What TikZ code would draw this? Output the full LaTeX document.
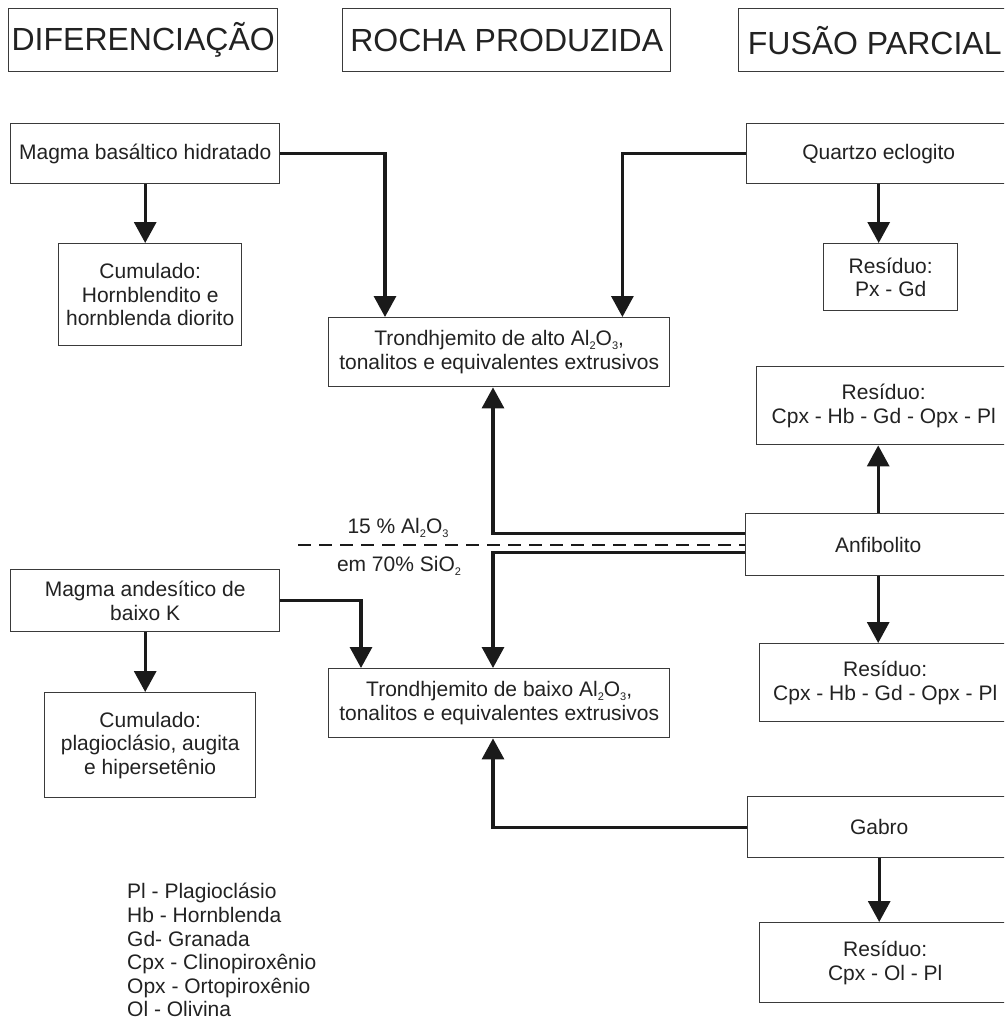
\documentclass[tikz,border=0pt]{standalone}
\usepackage{fontspec}
\setmainfont{Liberation Sans}
\usetikzlibrary{arrows.meta}
\definecolor{boxc}{HTML}{3A3A3A}
\definecolor{txt}{HTML}{222222}
\definecolor{lnc}{HTML}{1A1A1A}
\newcommand{\chemsub}[1]{\raisebox{-0.35ex}{\fontsize{11}{11}\selectfont #1}}
\begin{document}
\begin{tikzpicture}[x=1pt,y=-1pt,
  box/.style={draw=boxc, line width=1.4pt, rectangle, inner sep=0pt, align=center,
    text=txt, font=\fontsize{21}{23.5}\selectfont, anchor=north west},
  hdr/.style={box, font=\fontsize{32}{36}\selectfont},
  conn/.style={line width=3.2pt, draw=lnc, -{Triangle[width=22pt,length=21pt]}},
  lbl/.style={text=txt, font=\fontsize{21}{23.5}\selectfont, inner sep=0pt},
  leg/.style={lbl, anchor=base west},
  dline/.style={line width=2pt, draw=lnc, dash pattern=on 13pt off 8pt}
]
\useasboundingbox (0,0) rectangle (1004,1020);
\clip (0,0) rectangle (1004,1020);
\fill[white] (0,0) rectangle (1004,1020);

% headers
\node[hdr, minimum width=269pt, minimum height=63pt] (hdif) at (8,8) {DIFERENCIAÇÃO};
\node[hdr, minimum width=328pt, minimum height=63pt] (hroc) at (342,8) {ROCHA PRODUZIDA};
\node[hdr, minimum width=272pt, minimum height=63pt] (hfus) at (738,8) {FUSÃO PARCIAL};

% left column
\node[box, minimum width=269pt, minimum height=60pt] (bas) at (10,123) {Magma basáltico hidratado};
\node[box, minimum width=183pt, minimum height=102pt] (cum1) at (58,243) {Cumulado:\\Hornblendito e\\hornblenda diorito};
\node[box, minimum width=269pt, minimum height=62pt] (and) at (10,569) {Magma andesítico de\\baixo K};
\node[box, minimum width=211pt, minimum height=105pt] (cum2) at (44,692) {Cumulado:\\plagioclásio, augita\\e hipersetênio};

% middle column
\node[box, minimum width=341pt, minimum height=69pt] (alto) at (328,317) {Trondhjemito de alto Al\chemsub{2}O\chemsub{3},\\tonalitos e equivalentes extrusivos};
\node[box, minimum width=341pt, minimum height=69pt] (baixo) at (328,668) {Trondhjemito de baixo Al\chemsub{2}O\chemsub{3},\\tonalitos e equivalentes extrusivos};

% right column
\node[box, minimum width=264pt, minimum height=60pt] (quar) at (746,123) {Quartzo eclogito};
\node[box, minimum width=134pt, minimum height=67pt] (pxgd) at (823,243) {Resíduo:\\Px - Gd};
\node[box, minimum width=254pt, minimum height=78pt] (res1) at (756,366) {Resíduo:\\Cpx - Hb - Gd - Opx - Pl};
\node[box, minimum width=265pt, minimum height=62pt] (anf) at (745,513) {Anfibolito};
\node[box, minimum width=251pt, minimum height=78pt] (res2) at (759,643) {Resíduo:\\Cpx - Hb - Gd - Opx - Pl};
\node[box, minimum width=263pt, minimum height=61pt] (gab) at (747,796) {Gabro};
\node[box, minimum width=251pt, minimum height=80pt] (res3) at (759,922) {Resíduo:\\Cpx - Ol - Pl};

% dashed boundary and labels
\coordinate (dstart) at (298,545);
\draw[dline] (dstart) -- (dstart -| anf.west);
\node[lbl] (lab1) at (398,528) {15 \% Al\chemsub{2}O\chemsub{3}};
\node[lbl] (lab2) at (399,566) {em 70\% SiO\chemsub{2}};

% connectors
\draw[conn] (bas.east) -| ([xshift=57pt]alto.north west);
\draw[conn] (quar.west) -| ([xshift=-48pt]alto.north east);
\draw[conn] (bas.south) -- (bas.south |- cum1.north);
\draw[conn] (quar.south) -- (quar.south |- pxgd.north);
\draw[conn] (anf.north) -- (anf.north |- res1.south);
\draw[conn] (anf.south) -- (anf.south |- res2.north);
\draw[conn] ([yshift=11pt]anf.west) -| ([xshift=165pt]alto.south west);
\draw[conn] ([yshift=-8pt]anf.west) -| ([xshift=165pt]baixo.north west);
\draw[conn] (and.east) -| ([xshift=33pt]baixo.north west);
\draw[conn] (and.south) -- (and.south |- cum2.north);
\draw[conn] (gab.west) -| ([xshift=165pt]baixo.south west);
\draw[conn] (gab.south) -- (gab.south |- res3.north);

% legend
\node[leg] (leg1) at (127,898) {Pl - Plagioclásio};
\node[leg] (leg2) at (127,922) {Hb - Hornblenda};
\node[leg] (leg3) at (127,946) {Gd- Granada};
\node[leg] (leg4) at (127,969) {Cpx - Clinopiroxênio};
\node[leg] (leg5) at (127,993) {Opx - Ortopiroxênio};
\node[leg] (leg6) at (127,1016.5) {Ol - Olivina};
\end{tikzpicture}
\end{document}
